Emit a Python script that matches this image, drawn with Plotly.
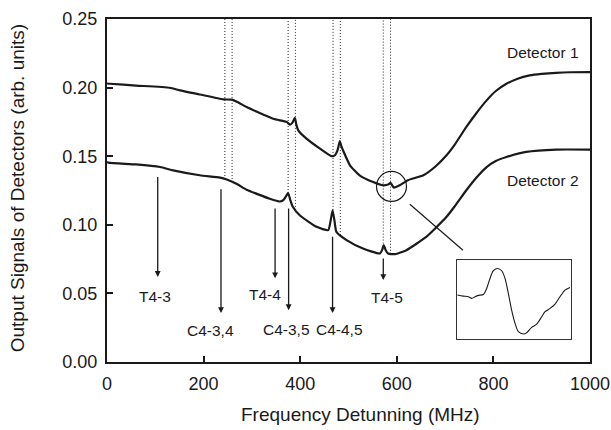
import numpy as np
import plotly.graph_objects as go

# ---------------- data ----------------
freq_d1 = [0, 6, 60, 130, 151, 192, 241, 258, 270, 289, 344, 372, 379, 384, 389, 392, 396, 413, 441,
           465, 472, 477, 482, 485, 489, 503, 523, 551, 572, 582, 587, 594, 606, 623, 655, 680, 703,
           720, 744, 765, 786, 805, 827, 850, 875, 900, 930, 960, 1000]
sig_d1 = [0.2030, 0.2028, 0.2015, 0.1999, 0.1980, 0.1950, 0.1914, 0.1912, 0.1895, 0.1858, 0.1773,
          0.1749, 0.1730, 0.1745, 0.1780, 0.1730, 0.1688, 0.1628, 0.1555, 0.1500, 0.1507, 0.1540,
          0.1610, 0.1575, 0.1540, 0.1434, 0.1361, 0.1312, 0.1288, 0.1293, 0.1305, 0.1271, 0.1288,
          0.1325, 0.1361, 0.1425, 0.1507, 0.1585, 0.1713, 0.1815, 0.1907, 0.1975, 0.2028, 0.2065,
          0.2089, 0.2100, 0.2108, 0.2112, 0.2113]

freq_d2 = [0, 3, 60, 110, 137, 192, 234, 248, 270, 289, 337, 358, 365, 371, 375, 380, 385, 399, 434,
           458, 463, 467, 471, 475, 496, 530, 565, 570, 573, 577, 582, 596, 620, 661, 680, 703, 720,
           744, 765, 786, 805, 827, 868, 930, 1000]
sig_d2 = [0.1458, 0.1453, 0.1440, 0.1421, 0.1397, 0.1361, 0.1344, 0.1330, 0.1295, 0.1256, 0.1190,
          0.1170, 0.1180, 0.1210, 0.1232, 0.1175, 0.1130, 0.1070, 0.0985, 0.0961, 0.1030, 0.1106,
          0.1030, 0.0948, 0.0888, 0.0827, 0.0791, 0.0820, 0.0852, 0.0815, 0.0791, 0.0786, 0.0815,
          0.0912, 0.0975, 0.1058, 0.1135, 0.1252, 0.1345, 0.1421, 0.1465, 0.1494, 0.1531, 0.1548,
          0.1548]

# dotted resonance markers (MHz)
marker_freqs = [244, 259, 375, 390, 468, 483, 572, 587]

# transition labels and arrows
trans_labels = ["T4-3", "C4-3,4", "T4-4", "C4-3,5", "C4-4,5", "T4-5"]
arrow_freq = [105, 236, 348, 376, 467, 572]
arrow_tail = [0.136, 0.127, 0.113, 0.113, 0.0924, 0.0766]
arrow_head = [0.062, 0.0357, 0.061, 0.0378, 0.0357, 0.0597]
label_freq = [99, 215, 328, 372, 482, 579]
label_sig = [0.048, 0.0226, 0.0495, 0.024, 0.024, 0.0473]

# inset (zoom of T4-5 feature on detector 1), arbitrary units
inset_x = [0.6, 5.8, 10.2, 13.2, 16.1, 19.0, 23.4, 26.3, 29.2, 32.2, 36.0, 39.5, 42.4, 45.3, 48.2,
           51.2, 54.1, 58.5, 61.4, 65.8, 70.2, 74.6, 77.5, 81.9, 86.3, 90.6, 95.0, 99.4]
inset_y = [0.559, 0.546, 0.538, 0.517, 0.538, 0.555, 0.567, 0.643, 0.769, 0.866, 0.895, 0.866,
           0.769, 0.580, 0.370, 0.202, 0.097, 0.067, 0.084, 0.151, 0.193, 0.286, 0.349, 0.391,
           0.445, 0.538, 0.622, 0.655]

x_ticks = [0, 200, 400, 600, 800, 1000]
y_ticks = [0.00, 0.05, 0.10, 0.15, 0.20, 0.25]

# ---------------- figure ----------------
FONT = "Liberation Sans, Arial, Helvetica, sans-serif"
INK = "#1a1a1a"

fig = go.Figure()
fig.add_trace(go.Scatter(x=freq_d1, y=sig_d1, mode="lines",
                         line=dict(color=INK, width=2.2, shape="spline", smoothing=0.5),
                         showlegend=False))
fig.add_trace(go.Scatter(x=freq_d2, y=sig_d2, mode="lines",
                         line=dict(color=INK, width=2.2, shape="spline", smoothing=0.5),
                         showlegend=False))
fig.add_trace(go.Scatter(x=inset_x, y=inset_y, mode="lines", xaxis="x2", yaxis="y2",
                         line=dict(color=INK, width=1.1, shape="spline", smoothing=0.8),
                         showlegend=False))

shapes = []
for f in marker_freqs:
    bottom = float(np.interp(f, freq_d2, sig_d2))
    shapes.append(dict(type="line", xref="x", yref="y", x0=f, x1=f, y0=bottom, y1=0.25,
                       line=dict(color="#222", width=1, dash="1px,2px")))

# circle around the T4-5 feature on detector 1
cf, cv = 589, 0.128
shapes.append(dict(type="circle", xref="x", yref="y", x0=cf - 31, x1=cf + 31,
                   y0=cv - 0.0109, y1=cv + 0.0109, line=dict(color=INK, width=1.2)))
# pointer to the inset
shapes.append(dict(type="line", xref="x", yref="y", x0=627, y0=0.115, x1=737, y1=0.0815,
                   line=dict(color=INK, width=1.2)))

annotations = []
for lab, f, t, h, lf, ls in zip(trans_labels, arrow_freq, arrow_tail, arrow_head, label_freq, label_sig):
    annotations.append(dict(x=f, y=h, ax=f, ay=t, xref="x", yref="y", axref="x", ayref="y",
                            text="", showarrow=True, arrowhead=2, arrowsize=0.9, arrowwidth=1.3,
                            arrowcolor=INK, standoff=0, startstandoff=0))
    annotations.append(dict(x=lf, y=ls, xref="x", yref="y", text=lab, showarrow=False,
                            font=dict(family=FONT, size=15.5, color=INK),
                            xanchor="center", yanchor="middle"))

annotations.append(dict(x=982, y=0.2258, xref="x", yref="y", text="Detector 1", showarrow=False,
                        xanchor="right", yanchor="middle", font=dict(family=FONT, size=15.5, color=INK)))
annotations.append(dict(x=982, y=0.1325, xref="x", yref="y", text="Detector 2", showarrow=False,
                        xanchor="right", yanchor="middle", font=dict(family=FONT, size=15.5, color=INK)))

# axis titles
annotations.append(dict(x=(17.5 - 107) / 483, y=0.505, xref="paper", yref="paper",
                        text="Output Signals of Detectors (arb. units)", textangle=-90,
                        showarrow=False, xanchor="center", yanchor="middle",
                        font=dict(family=FONT, size=19, color=INK)))
annotations.append(dict(x=(360 - 107) / 483, y=(362 - 414) / 343, xref="paper", yref="paper",
                        text="Frequency Detunning (MHz)", showarrow=False,
                        xanchor="center", yanchor="middle",
                        font=dict(family=FONT, size=19, color=INK)))

fig.update_layout(
    width=611, height=430,
    margin=dict(l=107, r=21, t=19, b=68, pad=0),
    paper_bgcolor="white", plot_bgcolor="white",
    font=dict(family=FONT, color=INK),
    shapes=shapes, annotations=annotations,
    xaxis=dict(range=[0, 1000], tickvals=x_ticks, ticktext=[str(v) for v in x_ticks],
               ticks="inside", ticklen=6, tickwidth=2, tickcolor=INK,
               showline=True, linewidth=2.2, linecolor=INK, mirror=True,
               showgrid=False, zeroline=False, tickfont=dict(size=18, color=INK),
               ticklabelstandoff=4, automargin=False),
    yaxis=dict(range=[0, 0.25], tickvals=y_ticks, ticktext=[f"{v:.2f}" for v in y_ticks],
               ticks="inside", ticklen=6, tickwidth=2, tickcolor=INK,
               showline=True, linewidth=2.2, linecolor=INK, mirror=True,
               showgrid=False, zeroline=False, tickfont=dict(size=18, color=INK),
               ticklabelstandoff=4, automargin=False),
    xaxis2=dict(domain=[0.724, 0.960], anchor="y2", range=[0, 100], showline=True, mirror=True,
                linewidth=1, linecolor="#333", ticks="", showticklabels=False,
                showgrid=False, zeroline=False, automargin=False),
    yaxis2=dict(domain=[0.066, 0.297], anchor="x2", range=[0, 1], showline=True, mirror=True,
                linewidth=1, linecolor="#333", ticks="", showticklabels=False,
                showgrid=False, zeroline=False, automargin=False),
)

fig.write_html("out.html")
